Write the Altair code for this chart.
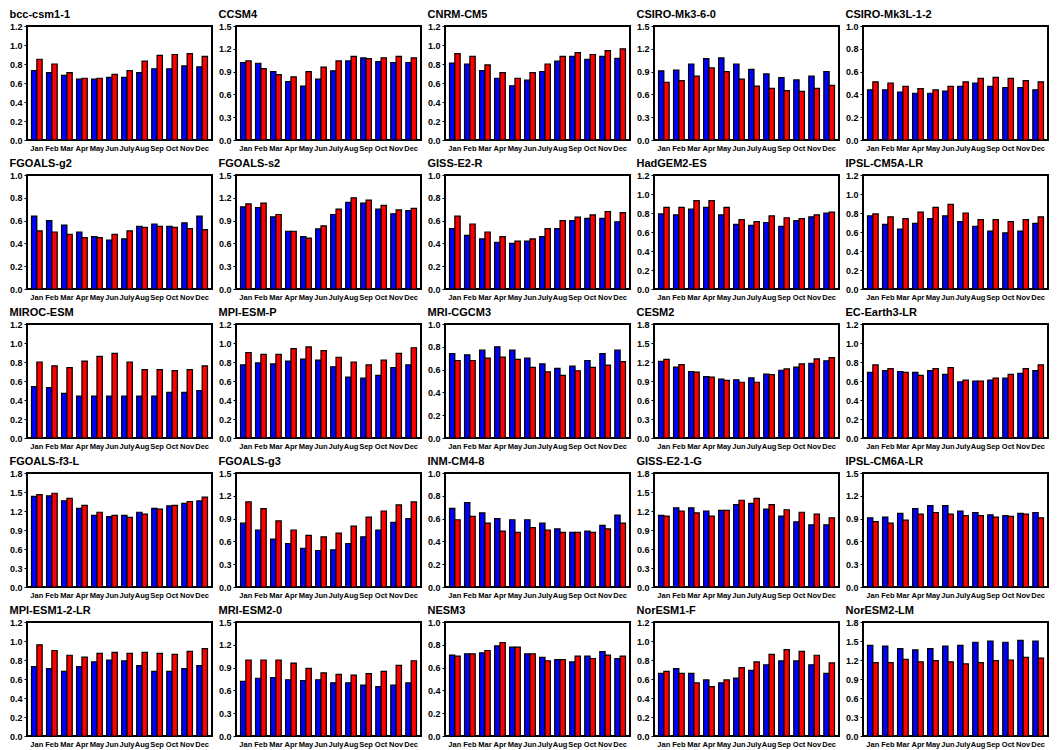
import altair as alt
import pandas as pd

months = ["Jan", "Feb", "Mar", "Apr", "May", "Jun", "July", "Aug", "Sep", "Oct", "Nov", "Dec"]

models = ["bcc-csm1-1", "CCSM4", "CNRM-CM5", "CSIRO-Mk3-6-0", "CSIRO-Mk3L-1-2",
          "FGOALS-g2", "FGOALS-s2", "GISS-E2-R", "HadGEM2-ES", "IPSL-CM5A-LR",
          "MIROC-ESM", "MPI-ESM-P", "MRI-CGCM3", "CESM2", "EC-Earth3-LR",
          "FGOALS-f3-L", "FGOALS-g3", "INM-CM4-8", "GISS-E2-1-G", "IPSL-CM6A-LR",
          "MPI-ESM1-2-LR", "MRI-ESM2-0", "NESM3", "NorESM1-F", "NorESM2-LM"]

# y-axis maximum and tick step of each panel
axis_max = [1.2, 1.5, 1.2, 1.5, 1.0,
            1.0, 1.5, 1.0, 1.2, 1.2,
            1.2, 1.2, 1.0, 1.8, 1.2,
            1.8, 1.5, 1.0, 1.8, 1.5,
            1.2, 1.5, 1.0, 1.2, 1.8]
axis_step = [0.2, 0.3, 0.2, 0.3, 0.2,
             0.2, 0.3, 0.2, 0.2, 0.2,
             0.2, 0.2, 0.2, 0.3, 0.2,
             0.3, 0.3, 0.2, 0.3, 0.3,
             0.2, 0.3, 0.2, 0.2, 0.3]

blue_bcc_csm1_1 = [0.73, 0.71, 0.68, 0.64, 0.64, 0.66, 0.66, 0.71, 0.75, 0.75, 0.78, 0.77]
red_bcc_csm1_1 = [0.85, 0.80, 0.71, 0.65, 0.65, 0.69, 0.73, 0.83, 0.89, 0.90, 0.91, 0.88]
blue_ccsm4 = [1.02, 1.01, 0.90, 0.77, 0.71, 0.80, 0.91, 1.04, 1.08, 1.03, 1.02, 1.02]
red_ccsm4 = [1.04, 0.94, 0.86, 0.83, 0.90, 0.96, 1.04, 1.10, 1.07, 1.08, 1.10, 1.08]
blue_cnrm_cm5 = [0.81, 0.80, 0.73, 0.65, 0.57, 0.63, 0.72, 0.83, 0.88, 0.85, 0.88, 0.86]
red_cnrm_cm5 = [0.91, 0.88, 0.79, 0.71, 0.65, 0.71, 0.80, 0.88, 0.92, 0.90, 0.94, 0.96]
blue_csiro_mk3_6_0 = [0.91, 0.92, 1.00, 1.07, 1.08, 1.00, 0.93, 0.87, 0.82, 0.79, 0.84, 0.90]
red_csiro_mk3_6_0 = [0.76, 0.78, 0.84, 0.95, 0.90, 0.80, 0.71, 0.68, 0.65, 0.64, 0.68, 0.72]
blue_csiro_mk3l_1_2 = [0.44, 0.44, 0.42, 0.41, 0.41, 0.43, 0.47, 0.50, 0.47, 0.46, 0.46, 0.44]
red_csiro_mk3l_1_2 = [0.51, 0.50, 0.47, 0.45, 0.44, 0.47, 0.51, 0.54, 0.55, 0.54, 0.52, 0.51]

blue_fgoals_g2 = [0.64, 0.60, 0.56, 0.50, 0.46, 0.43, 0.44, 0.55, 0.57, 0.55, 0.58, 0.64]
red_fgoals_g2 = [0.51, 0.50, 0.48, 0.45, 0.45, 0.48, 0.51, 0.54, 0.55, 0.54, 0.53, 0.52]
blue_fgoals_s2 = [1.08, 1.07, 0.95, 0.76, 0.69, 0.79, 0.98, 1.14, 1.13, 1.05, 0.99, 1.03]
red_fgoals_s2 = [1.12, 1.13, 0.98, 0.76, 0.67, 0.83, 1.05, 1.20, 1.17, 1.10, 1.04, 1.06]
blue_giss_e2_r = [0.53, 0.47, 0.44, 0.41, 0.40, 0.42, 0.46, 0.53, 0.60, 0.62, 0.62, 0.59]
red_giss_e2_r = [0.64, 0.57, 0.50, 0.46, 0.42, 0.44, 0.53, 0.60, 0.63, 0.65, 0.68, 0.67]
blue_hadgem2_es = [0.79, 0.78, 0.84, 0.86, 0.78, 0.68, 0.67, 0.70, 0.66, 0.72, 0.76, 0.80]
red_hadgem2_es = [0.86, 0.86, 0.93, 0.93, 0.86, 0.73, 0.71, 0.77, 0.75, 0.74, 0.78, 0.81]
blue_ipsl_cm5a_lr = [0.77, 0.68, 0.63, 0.69, 0.74, 0.77, 0.71, 0.66, 0.61, 0.59, 0.61, 0.69]
red_ipsl_cm5a_lr = [0.79, 0.76, 0.74, 0.81, 0.86, 0.89, 0.80, 0.73, 0.73, 0.71, 0.73, 0.76]

blue_miroc_esm = [0.54, 0.53, 0.47, 0.44, 0.44, 0.44, 0.44, 0.44, 0.44, 0.48, 0.48, 0.50]
red_miroc_esm = [0.80, 0.76, 0.74, 0.81, 0.86, 0.89, 0.80, 0.72, 0.72, 0.71, 0.72, 0.76]
blue_mpi_esm_p = [0.77, 0.79, 0.78, 0.81, 0.83, 0.82, 0.75, 0.64, 0.63, 0.66, 0.74, 0.77]
red_mpi_esm_p = [0.90, 0.88, 0.88, 0.94, 0.96, 0.92, 0.85, 0.80, 0.77, 0.82, 0.89, 0.95]
blue_mri_cgcm3 = [0.74, 0.73, 0.77, 0.80, 0.77, 0.70, 0.65, 0.61, 0.63, 0.68, 0.74, 0.77]
red_mri_cgcm3 = [0.68, 0.68, 0.70, 0.71, 0.69, 0.62, 0.58, 0.55, 0.59, 0.62, 0.64, 0.67]
blue_cesm2 = [1.21, 1.12, 1.05, 0.97, 0.93, 0.92, 0.95, 1.01, 1.07, 1.12, 1.18, 1.22]
red_cesm2 = [1.24, 1.16, 1.04, 0.96, 0.91, 0.88, 0.88, 1.00, 1.09, 1.17, 1.25, 1.27]
blue_ec_earth3_lr = [0.69, 0.71, 0.70, 0.69, 0.71, 0.67, 0.59, 0.60, 0.61, 0.63, 0.68, 0.71]
red_ec_earth3_lr = [0.77, 0.73, 0.69, 0.66, 0.73, 0.74, 0.61, 0.60, 0.63, 0.67, 0.73, 0.77]

blue_fgoals_f3_l = [1.43, 1.44, 1.36, 1.24, 1.13, 1.11, 1.13, 1.18, 1.24, 1.28, 1.32, 1.36]
red_fgoals_f3_l = [1.46, 1.48, 1.40, 1.29, 1.18, 1.13, 1.10, 1.15, 1.23, 1.29, 1.35, 1.42]
blue_fgoals_g3 = [0.84, 0.75, 0.63, 0.57, 0.51, 0.48, 0.49, 0.57, 0.66, 0.75, 0.85, 0.90]
red_fgoals_g3 = [1.12, 1.03, 0.87, 0.75, 0.68, 0.66, 0.71, 0.80, 0.92, 1.00, 1.08, 1.12]
blue_inm_cm4_8 = [0.69, 0.74, 0.65, 0.60, 0.59, 0.59, 0.56, 0.51, 0.48, 0.49, 0.54, 0.63]
red_inm_cm4_8 = [0.59, 0.62, 0.56, 0.49, 0.48, 0.52, 0.50, 0.48, 0.48, 0.48, 0.51, 0.56]
blue_giss_e2_1_g = [1.13, 1.25, 1.25, 1.20, 1.21, 1.30, 1.32, 1.23, 1.12, 1.03, 0.98, 0.98]
red_giss_e2_1_g = [1.12, 1.20, 1.17, 1.12, 1.21, 1.37, 1.40, 1.30, 1.22, 1.18, 1.15, 1.09]
blue_ipsl_cm6a_lr = [0.91, 0.92, 0.97, 1.03, 1.07, 1.07, 1.00, 0.98, 0.95, 0.94, 0.97, 0.98]
red_ipsl_cm6a_lr = [0.86, 0.84, 0.88, 0.96, 0.98, 0.96, 0.94, 0.94, 0.92, 0.93, 0.96, 0.91]

blue_mpi_esm1_2_lr = [0.73, 0.71, 0.68, 0.73, 0.78, 0.80, 0.79, 0.74, 0.68, 0.68, 0.71, 0.74]
red_mpi_esm1_2_lr = [0.96, 0.90, 0.85, 0.83, 0.87, 0.88, 0.87, 0.88, 0.87, 0.86, 0.89, 0.92]
blue_mri_esm2_0 = [0.72, 0.76, 0.77, 0.74, 0.73, 0.74, 0.70, 0.70, 0.67, 0.65, 0.67, 0.70]
red_mri_esm2_0 = [1.00, 1.00, 1.00, 0.96, 0.89, 0.83, 0.81, 0.80, 0.82, 0.85, 0.93, 0.99]
blue_nesm3 = [0.71, 0.72, 0.73, 0.79, 0.78, 0.72, 0.69, 0.67, 0.65, 0.70, 0.74, 0.68]
red_nesm3 = [0.70, 0.72, 0.75, 0.82, 0.78, 0.72, 0.66, 0.67, 0.70, 0.68, 0.71, 0.70]
blue_noresm1_f = [0.66, 0.71, 0.66, 0.59, 0.56, 0.61, 0.69, 0.75, 0.79, 0.79, 0.75, 0.66]
red_noresm1_f = [0.68, 0.66, 0.56, 0.52, 0.59, 0.72, 0.78, 0.86, 0.91, 0.89, 0.85, 0.77]
blue_noresm2_lm = [1.43, 1.42, 1.38, 1.36, 1.38, 1.42, 1.43, 1.48, 1.50, 1.48, 1.51, 1.50]
red_noresm2_lm = [1.16, 1.16, 1.21, 1.17, 1.19, 1.17, 1.14, 1.16, 1.19, 1.20, 1.24, 1.23]

blue_series = [blue_bcc_csm1_1, blue_ccsm4, blue_cnrm_cm5, blue_csiro_mk3_6_0, blue_csiro_mk3l_1_2,
               blue_fgoals_g2, blue_fgoals_s2, blue_giss_e2_r, blue_hadgem2_es, blue_ipsl_cm5a_lr,
               blue_miroc_esm, blue_mpi_esm_p, blue_mri_cgcm3, blue_cesm2, blue_ec_earth3_lr,
               blue_fgoals_f3_l, blue_fgoals_g3, blue_inm_cm4_8, blue_giss_e2_1_g, blue_ipsl_cm6a_lr,
               blue_mpi_esm1_2_lr, blue_mri_esm2_0, blue_nesm3, blue_noresm1_f, blue_noresm2_lm]
red_series = [red_bcc_csm1_1, red_ccsm4, red_cnrm_cm5, red_csiro_mk3_6_0, red_csiro_mk3l_1_2,
              red_fgoals_g2, red_fgoals_s2, red_giss_e2_r, red_hadgem2_es, red_ipsl_cm5a_lr,
              red_miroc_esm, red_mpi_esm_p, red_mri_cgcm3, red_cesm2, red_ec_earth3_lr,
              red_fgoals_f3_l, red_fgoals_g3, red_inm_cm4_8, red_giss_e2_1_g, red_ipsl_cm6a_lr,
              red_mpi_esm1_2_lr, red_mri_esm2_0, red_nesm3, red_noresm1_f, red_noresm2_lm]

FONT = "Liberation Sans"
panels = []
for name, ymax, step, b, r in zip(models, axis_max, axis_step, blue_series, red_series):
    rows = []
    for m, bv, rv in zip(months, b, r):
        rows.append({"month": m, "series": "blue", "value": bv})
        rows.append({"month": m, "series": "red", "value": rv})
    df = pd.DataFrame(rows)
    n = int(round(ymax / step))
    ticks = [round(i * step, 2) for i in range(n + 1)]
    panel = alt.Chart(df).mark_bar(stroke="black", strokeWidth=1.2).encode(
        x=alt.X("month:N", sort=months,
                scale=alt.Scale(paddingInner=0.29, paddingOuter=0.3),
                axis=alt.Axis(title=None, labelAngle=0, ticks=False, domain=False,
                              labelFontSize=7.5, labelOverlap=False, labelPadding=4,
                              labelFont=FONT, labelColor="black", labelFontWeight="bold")),
        xOffset=alt.XOffset("series:N", sort=["blue", "red"], scale=alt.Scale(paddingInner=0)),
        y=alt.Y("value:Q", scale=alt.Scale(domain=[0, ymax], nice=False),
                axis=alt.Axis(title=None, values=ticks, format=".1f", grid=False, domain=False,
                              tickSize=3, tickColor="black", labelFontSize=9, labelPadding=2,
                              labelFont=FONT, labelColor="black", labelFontWeight="bold")),
        color=alt.Color("series:N", scale=alt.Scale(domain=["blue", "red"], range=["#0000ff", "#ff0000"]),
                        legend=None),
    ).properties(
        width=185, height=114,
        title=alt.TitleParams(name, anchor="start", fontSize=11, font=FONT, fontWeight="bold",
                              color="black", offset=2),
    )
    panels.append(panel)

chart = alt.concat(*panels, columns=5, spacing=4).properties(
    padding={"left": 0, "top": 0, "right": 0, "bottom": 0}
).configure_view(stroke="black", strokeWidth=2).configure_concat(spacing=4)

chart.save("out.html", embed_options={"renderer": "svg", "actions": False})
